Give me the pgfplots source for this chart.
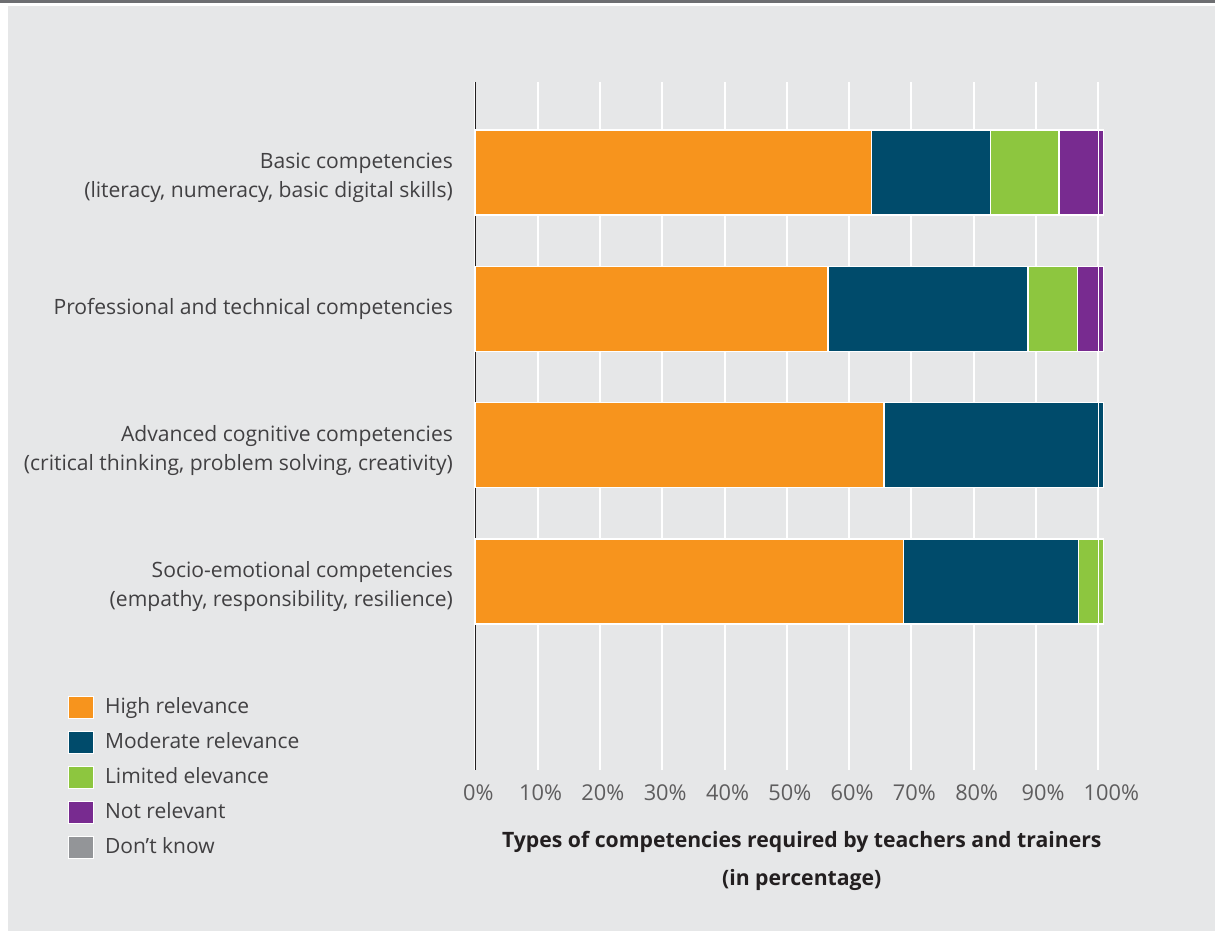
\documentclass[border=0pt]{standalone}
\usepackage{fontspec}
\setmainfont{Open Sans}
\usepackage{pgfplots}
\pgfplotsset{compat=1.18}
\definecolor{bg}{HTML}{E6E7E8}
\definecolor{topgray}{HTML}{6D6E71}
\definecolor{cHigh}{HTML}{F7941D}
\definecolor{cMod}{HTML}{004B6B}
\definecolor{cLim}{HTML}{8DC63F}
\definecolor{cNot}{HTML}{782B90}
\definecolor{cDk}{HTML}{939598}
\definecolor{txt}{HTML}{414042}
\definecolor{ttl}{HTML}{231F20}
\newcommand\two[2]{\raisebox{-2.1pt}[\height][\depth]{\begin{tabular}{@{}r@{}}#1\\#2\end{tabular}}}
\begin{document}
\begin{tikzpicture}
\fill[white] (0,0) rectangle (607.5pt,465.5pt);
\fill[bg] (4pt,0) rectangle (607.5pt,462.5pt);
\fill[topgray] (0,464pt) rectangle (607.5pt,465.5pt);
\begin{axis}[
  name=ax,
  at={(237.65pt,80.5pt)}, anchor=south west,
  scale only axis, width=311.5pt, height=344pt,
  xbar stacked, bar width=0.624,
  xmin=0, xmax=100, ymin=-0.664, ymax=4.383, y dir=reverse,
  ytick={0,1,2,3},
  yticklabels={{\two{Basic competencies}{(literacy, numeracy, basic digital skills)}},
               {Professional and technical competencies},
               {\two{Advanced cognitive competencies}{(critical thinking, problem solving, creativity)}},
               {\two{Socio-emotional competencies}{(empathy, responsibility, resilience)}}},
  yticklabel style={inner sep=0pt, xshift=-11pt, yshift=-0.3pt, text=txt, font=\fontsize{10.55}{14.6}\selectfont},
  xtick={0,10,...,100},
  xticklabels={0\%,10\%,20\%,30\%,40\%,50\%,60\%,70\%,80\%,\hspace*{4pt}90\%,\hspace*{10pt}100\%},
  xticklabel style={inner sep=0pt, yshift=-7pt, xshift=1.5pt, text=txt!85, font=\fontsize{10.9}{12}\selectfont},
  major tick length=0pt,
  axis lines*=left,
  x axis line style={draw=none},
  y axis line style={draw=ttl, line width=0.8pt},
  xmajorgrids, major grid style={white, line width=1pt},
  xlabel={Types of competencies required by teachers and trainers\\(in percentage)},
  xlabel style={at={(axis description cs:0.524,0)}, anchor=north, yshift=-27pt, align=center,
    text=ttl, font=\fontsize{10.6}{19}\selectfont\bfseries},
  legend style={at={(axis description cs:-0.654,0.1115)}, anchor=north west, draw=none, fill=none,
    inner sep=0pt, row sep=4.0pt, font=\fontsize{10.5}{12}\selectfont, text=txt,
    /tikz/every odd column/.append style={column sep=3.5pt}},
  legend cell align=left,
  legend image code/.code={\filldraw[#1, draw=white, line width=0.4pt] (0pt,-5.5pt) rectangle (12.5pt,5.5pt);},
  every axis plot/.append style={draw=white, line width=0.6pt},
  clip=false,
]
\addplot[fill=cHigh] coordinates {(63.6,0) (56.6,1) (65.6,2) (68.7,3)};
\addplot[fill=cMod]  coordinates {(19.1,0) (32.1,1) (35.2,2) (28.1,3)};
\addplot[fill=cLim]  coordinates {(11.0,0) (8.0,1) (0,2) (4.0,3)};
\addplot[fill=cNot]  coordinates {(7.1,0) (4.1,1) (0,2) (0,3)};
\addlegendentry{High relevance}
\addlegendentry{Moderate relevance}
\addlegendentry{Limited elevance}
\addlegendentry{Not relevant}
\addlegendimage{fill=cDk}
\addlegendentry{Don’t know}
\end{axis}
\draw[white, line width=0.8pt] (ax.south east) -- (ax.north east);
\end{tikzpicture}
\end{document}
